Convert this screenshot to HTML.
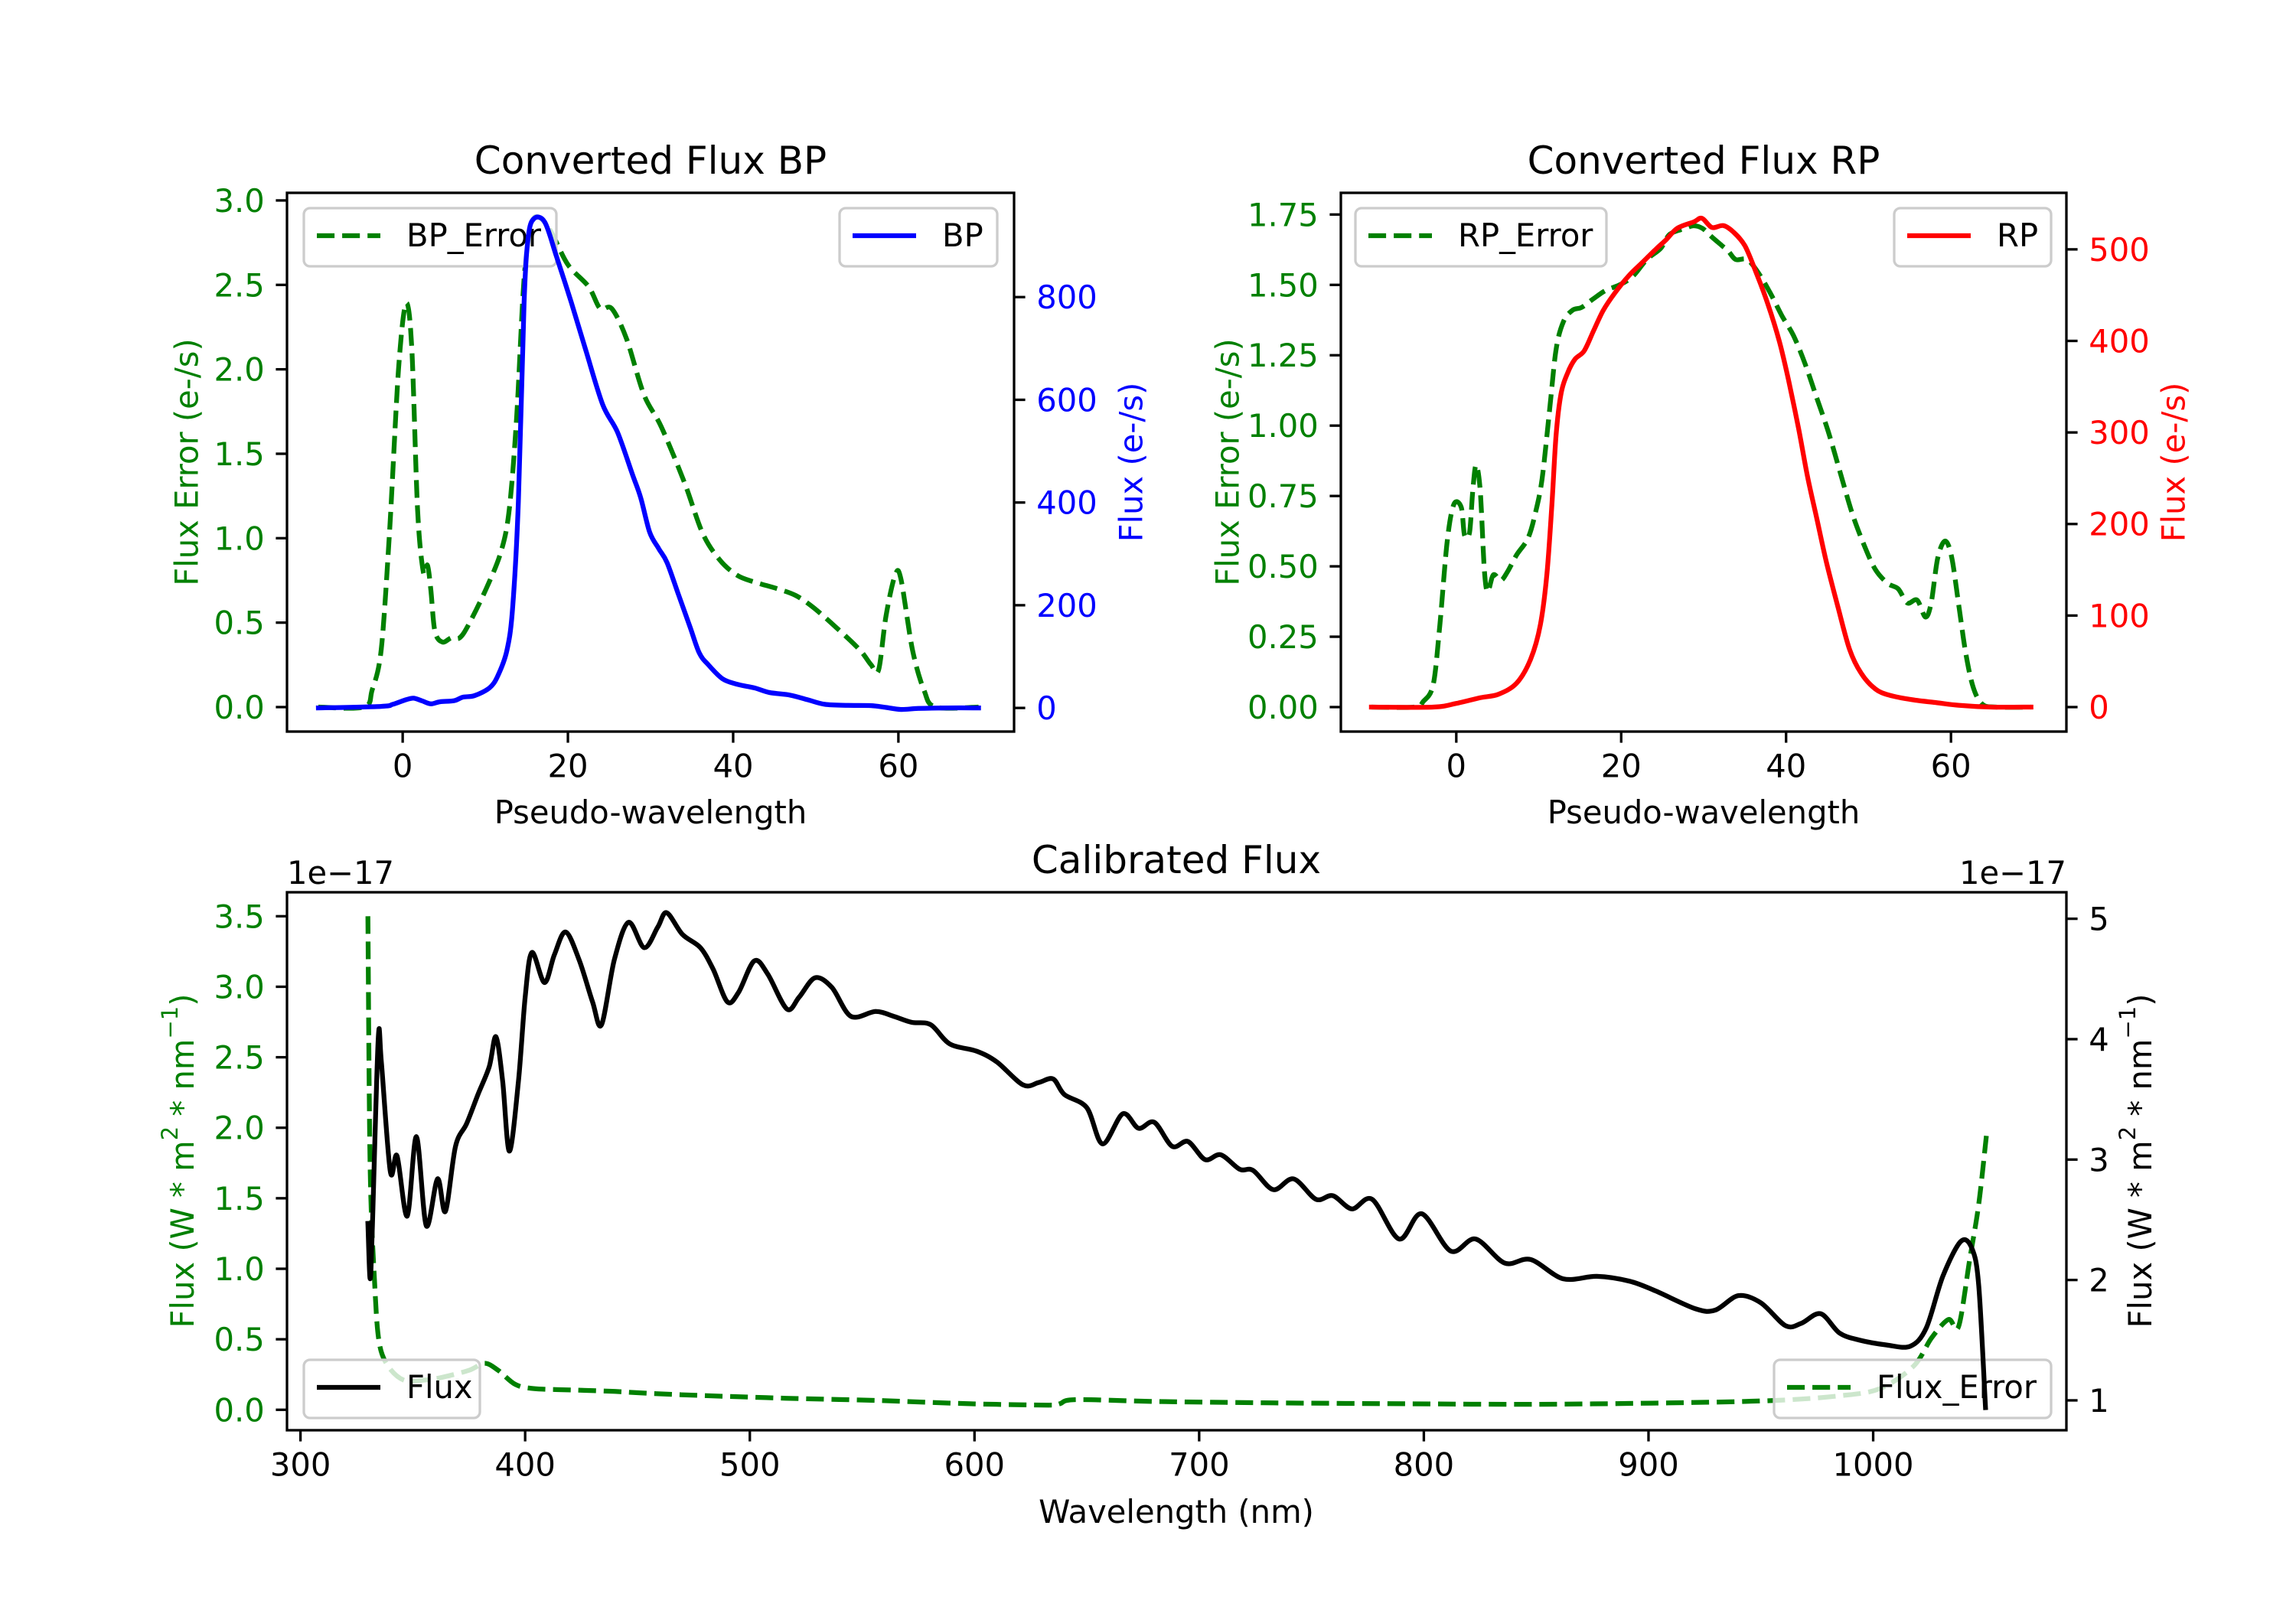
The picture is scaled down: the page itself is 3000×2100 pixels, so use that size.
<!DOCTYPE html>
<html><head><meta charset="utf-8"><style>
html,body{margin:0;padding:0;background:#fff}
svg{display:block;font-family:"DejaVu Sans","Liberation Sans",sans-serif}
</style></head><body>
<svg id="fig" xmlns="http://www.w3.org/2000/svg" width="3000" height="2100" viewBox="0 0 3000 2100">
<rect width="3000" height="2100" fill="#fff"/>
</svg>
<script>
// ---- BP data ----
const bpX = [-10.2,-2.6,-1.2,0.2,1.3,2.3,3.4,4.5,6.2,7.3,8.7,10.5,11.5,12.6,13.3,14,14.7,15.2,15.9,17.2,18.6,20.4,22.1,24.2,26,27.8,28.8,29.9,31,32,33.4,34.8,35.9,37,38.7,40.5,42.6,44.4,46.9,49,51.1,53.9,56.7,58.5,60.3,62.4,65.9,69.7];
const bpFlux = [0,3,7,15,19,14,8,12,14,21,24,39,62,111,193,401,790,917,953,946,880,790,700,591,537,455,410,342,310,283,220,157,107,84,57,46,39,30,25,16,7,5,4.5,1,-3,-1,0,0];
const bpErrX = [-10.2,-4.7,-3.7,-2.6,-1.6,-0.5,0.4,1.1,1.8,2.5,3.0,3.4,3.9,4.8,5.9,6.9,8,10.1,11.9,12.9,13.8,14.7,15.6,16.5,17.9,20,22.5,23.9,25.3,27.1,29.2,31.3,34.1,36.3,38.4,40.5,42.6,45.4,47.6,49.7,52.5,55.3,56.7,57.6,58.5,59.6,60.3,61.7,63.1,64.5,69.7];
const bpErr = [0,0,0.1,0.34,1.03,2.0,2.39,2.13,1.17,0.80,0.84,0.70,0.45,0.385,0.41,0.41,0.49,0.70,0.92,1.17,1.72,2.54,2.86,2.90,2.82,2.62,2.49,2.36,2.36,2.18,1.85,1.66,1.33,1.03,0.87,0.78,0.74,0.70,0.66,0.59,0.47,0.34,0.25,0.22,0.54,0.78,0.76,0.34,0.10,0,0];
// ---- RP data ----
const rpX = [-10.3,-2.8,0,2.8,5.1,7.3,9,10.2,11,11.6,12.1,12.7,13.5,14.4,15.5,16.6,17.8,19.2,20.9,22.6,24.3,25.4,26.8,28.8,29.8,31,32.4,33.6,35,36.4,37.8,39.2,40.3,41.5,42.6,43.7,44.9,46.3,47.7,49.1,50.8,52.5,55.3,58.1,60.9,64.9,69.7];
const rpFlux = [0,0,4,10,14,26,52,90,146,222,297,342,365,380,389,410,433,452,471,486,501,510,523,530,534,524,526,519,504,474,440,399,357,305,252,207,158,109,63,37,20,13,8,5,2,0,0];
const rpErrX = [-10.3,-5.1,-4,-2.8,-2,-1.1,-0.3,0.6,1,1.6,2,2.4,2.9,3.4,3.8,4.5,5.4,6.2,7.3,8.7,9.6,10.4,11.3,12.1,13,14.1,15.2,16.6,18.1,19.8,21.4,23.1,24.8,25.9,27.7,28.8,29.9,31,32.2,33,33.9,35.3,36.7,38.1,39.5,40.9,42.3,43.7,45.1,46.6,48,49.4,50.8,52.3,53.6,54.7,55.9,56.9,57.6,58.4,59.3,60.1,61,61.8,62.7,63.8,65.5,69.7];
const rpErr = [0,0,0.02,0.08,0.29,0.59,0.72,0.71,0.61,0.62,0.77,0.86,0.77,0.49,0.41,0.47,0.45,0.48,0.54,0.60,0.69,0.81,1.05,1.27,1.37,1.41,1.42,1.45,1.48,1.50,1.53,1.59,1.63,1.68,1.70,1.71,1.70,1.67,1.64,1.62,1.59,1.59,1.54,1.47,1.39,1.32,1.22,1.10,0.98,0.83,0.69,0.58,0.49,0.44,0.42,0.37,0.38,0.32,0.37,0.53,0.59,0.53,0.35,0.19,0.07,0.01,0,0];
// ---- Calibrated data ----
const calX = [330,331,332,334.6,336,340,343,347.5,351.6,356,361,364.5,369,374,379,384,387,390,393,397,400,403,408.6,413,418,424,430,434,439.7,446,453,459,463,470,478,483.7,490,495,502,508,516.5,522,529,536.5,545,556,564,572,580.5,589,601,610,621.6,628.6,635,640,650,657,666,673,680,688,695,702.6,709.6,718,724,733,742,752,759.5,768,777,789,799,812,823,836,847.5,862,877,891.5,903,921,929.7,940,950,961,968,976.6,985,994,1006,1016.5,1023.6,1031,1039,1044,1047,1050];
const calFlux = [2.47,2.01,2.45,4.0,3.81,2.90,3.03,2.53,3.19,2.45,2.84,2.57,3.11,3.30,3.54,3.77,4.02,3.65,3.07,3.65,4.35,4.72,4.47,4.70,4.89,4.66,4.31,4.12,4.66,4.97,4.76,4.93,5.05,4.87,4.76,4.58,4.31,4.39,4.65,4.54,4.25,4.35,4.51,4.43,4.19,4.23,4.19,4.14,4.12,3.96,3.90,3.81,3.62,3.64,3.67,3.54,3.43,3.13,3.38,3.26,3.31,3.11,3.15,3.00,3.04,2.92,2.91,2.75,2.84,2.67,2.70,2.59,2.67,2.34,2.55,2.24,2.34,2.14,2.17,2.01,2.03,1.99,1.91,1.76,1.75,1.87,1.81,1.62,1.64,1.72,1.56,1.50,1.46,1.45,1.60,2.03,2.32,2.26,1.95,0.94];
const calErrX = [330,331,333,335,339,346,354.6,363,375,382,388,395.6,404,422,440,457,481,516,557,598,633,638,645,680,733,792,850,909,956,985,1003,1018,1026,1033.5,1038,1043,1047,1050.5];
const calErr = [3.50,1.73,0.90,0.48,0.31,0.21,0.21,0.23,0.28,0.33,0.28,0.18,0.15,0.14,0.13,0.115,0.10,0.082,0.066,0.043,0.033,0.043,0.072,0.059,0.049,0.043,0.039,0.049,0.066,0.099,0.15,0.31,0.51,0.64,0.59,1.07,1.46,1.96];
// ---- ticks ----
const pwTicks = [0,20,40,60];
const bpErrTicks = [0,0.5,1,1.5,2,2.5,3];
const bpErrTickLabels = ["0.0","0.5","1.0","1.5","2.0","2.5","3.0"];
const bpFluxTicks = [0,200,400,600,800];
const rpErrTicks = [0,0.25,0.5,0.75,1,1.25,1.5,1.75];
const rpErrTickLabels = ["0.00","0.25","0.50","0.75","1.00","1.25","1.50","1.75"];
const rpFluxTicks = [0,100,200,300,400,500];
const wlTicks = [300,400,500,600,700,800,900,1000];
const calErrTicks = [0,0.5,1,1.5,2,2.5,3,3.5];
const calErrTickLabels = ["0.0","0.5","1.0","1.5","2.0","2.5","3.0","3.5"];
const calFluxTicks = [1,2,3,4,5];

const NS = "http://www.w3.org/2000/svg";
const svg = document.getElementById('fig');
const FS = 41.67, LW = 6.25, DASH = "23.1 10";
function el(tag, attrs, parent){ const e=document.createElementNS(NS,tag); for(const k in attrs) e.setAttribute(k,attrs[k]); (parent||svg).appendChild(e); return e; }
function txt(s, attrs, parent){ const t=el('text',attrs,parent); t.textContent=s; return t; }
function scale(d0,d1,p0,p1){ return v=>p0+(v-d0)/(d1-d0)*(p1-p0); }
function clipRect(id,box){ const c=el('clipPath',{id:id}); el('rect',{x:box.l,y:box.t,width:box.r-box.l,height:box.b-box.t},c); }
function line(xs,ys,sx,sy,color,dashed,clip,name){
  const P=xs.map((x,i)=>[sx(x),sy(ys[i])]);
  let d='M'+P[0][0].toFixed(1)+','+P[0][1].toFixed(1);
  const t=0.16;
  for(let i=0;i<P.length-1;i++){
    const p0=P[Math.max(0,i-1)],p1=P[i],p2=P[i+1],p3=P[Math.min(P.length-1,i+2)];
    const c1=[p1[0]+(p2[0]-p0[0])*t,p1[1]+(p2[1]-p0[1])*t];
    const c2=[p2[0]-(p3[0]-p1[0])*t,p2[1]-(p3[1]-p1[1])*t];
    d+='C'+c1[0].toFixed(1)+','+c1[1].toFixed(1)+' '+c2[0].toFixed(1)+','+c2[1].toFixed(1)+' '+p2[0].toFixed(1)+','+p2[1].toFixed(1);
  }
  const p=el('path',{d:d,fill:'none',stroke:color,'stroke-width':LW,'stroke-linejoin':'round','stroke-linecap':dashed?'butt':'square','clip-path':'url(#'+clip+')'});
  if(dashed) p.setAttribute('stroke-dasharray',DASH);
  
  
  return p;
}
function xticks(box,sx,ticks,labels,name){
  const g=el('g',{});
  
  
  ticks.forEach((v,i)=>{ const x=sx(v);
    el('line',{x1:x,x2:x,y1:box.b,y2:box.b+14.6,stroke:'#000','stroke-width':3.3},g);
    txt(labels?labels[i]:String(v),{x:x,y:box.b+14.6+14.6+30.5,'font-size':FS,'text-anchor':'middle',fill:'#000'},g); });
}
function yticks(box,sy,ticks,labels,side,color,name){
  const g=el('g',{});
  
  
  ticks.forEach((v,i)=>{ const y=sy(v); const x0= side==='l'?box.l:box.r; const dir= side==='l'?-1:1;
    el('line',{x1:x0,x2:x0+dir*14.6,y1:y,y2:y,stroke:'#000','stroke-width':3.3},g);
    txt(labels?labels[i]:String(v),{x:x0+dir*29.2,y:y+15,'font-size':FS,'text-anchor':side==='l'?'end':'start',fill:color},g); });
}
function frame(box,name){ const r=el('rect',{x:box.l,y:box.t,width:box.r-box.l,height:box.b-box.t,fill:'none',stroke:'#000','stroke-width':3.3});
  
   }
function legend(x,y,w,color,dashed,label,name){
  const g=el('g',{});
  
  
  el('rect',{x:x,y:y,width:w,height:76,rx:8,fill:'#fff','fill-opacity':0.8,stroke:'#cccccc','stroke-width':3.3},g);
  const l=el('line',{x1:x+17,x2:x+100,y1:y+36,y2:y+36,stroke:color,'stroke-width':LW},g);
  if(dashed) l.setAttribute('stroke-dasharray',DASH);
  txt(label,{x:x+134,y:y+50,'font-size':FS,fill:'#000'},g);
}
function ylabel(s,x,cy,color,name){ const t=txt(s,{x:x,y:cy,'font-size':FS,'text-anchor':'middle',fill:color,transform:'rotate(-90 '+x+' '+cy+')','dominant-baseline':'central'});
  
   return t; }
function title(s,x,y,name){ const t=txt(s,{x:x,y:y,'font-size':50,'text-anchor':'middle',fill:'#000'});
  
   }

// ===== BP panel =====
const bpBox={l:375,r:1325,t:252,b:956};
clipRect('cbp',bpBox);
const bx=scale(-14,74,bpBox.l,bpBox.r), byL=scale(-0.145,3.045,bpBox.b,bpBox.t), byR=scale(-46,1003,bpBox.b,bpBox.t);
line(bpErrX,bpErr,bx,byL,'#008000',true,'cbp','bp-error-line');
legend(397,272,330,'#008000',true,'BP_Error','bp-error-legend');
line(bpX,bpFlux,bx,byR,'#0000ff',false,'cbp','bp-flux-line');
legend(1097,272,206,'#0000ff',false,'BP','bp-legend');
frame(bpBox,'bp-axes-frame');
xticks(bpBox,bx,pwTicks,null,'bp-x-ticks');
yticks(bpBox,byL,bpErrTicks,bpErrTickLabels,'l','#008000','bp-left-y-ticks');
yticks(bpBox,byR,bpFluxTicks,null,'r','#0000ff','bp-right-y-ticks');
title('Converted Flux BP',850,227,'bp-title');
txt('Pseudo-wavelength',{x:850,y:1076,'font-size':FS,'text-anchor':'middle',fill:'#000',});
ylabel('Flux Error (e-/s)',244,604,'#008000','bp-left-y-axis-title');
ylabel('Flux (e-/s)',1478,604,'#0000ff','bp-right-y-axis-title');

// ===== RP panel =====
const rpBox={l:1752,r:2700,t:252,b:956};
clipRect('crp',rpBox);
const rx=scale(-14,74,rpBox.l,rpBox.r), ryL=scale(-0.087,1.827,rpBox.b,rpBox.t), ryR=scale(-26.75,561.75,rpBox.b,rpBox.t);
line(rpErrX,rpErr,rx,ryL,'#008000',true,'crp','rp-error-line');
legend(1771,272,328,'#008000',true,'RP_Error','rp-error-legend');
line(rpX,rpFlux,rx,ryR,'#ff0000',false,'crp','rp-flux-line');
legend(2475,272,205,'#ff0000',false,'RP','rp-legend');
frame(rpBox,'rp-axes-frame');
xticks(rpBox,rx,pwTicks,null,'rp-x-ticks');
yticks(rpBox,ryL,rpErrTicks,rpErrTickLabels,'l','#008000','rp-left-y-ticks');
yticks(rpBox,ryR,rpFluxTicks,null,'r','#ff0000','rp-right-y-ticks');
title('Converted Flux RP',2226,227,'rp-title');
txt('Pseudo-wavelength',{x:2226,y:1076,'font-size':FS,'text-anchor':'middle',fill:'#000',});
ylabel('Flux Error (e-/s)',1604,604,'#008000','rp-left-y-axis-title');
ylabel('Flux (e-/s)',2840,604,'#ff0000','rp-right-y-axis-title');

// ===== Calibrated panel =====
const cBox={l:375,r:2700,t:1166,b:1869};
clipRect('ccal',cBox);
const cx=scale(294,1086,cBox.l,cBox.r), cyL=scale(-0.145,3.67,cBox.b,cBox.t), cyR=scale(0.752,5.22,cBox.b,cBox.t);
line(calErrX,calErr,cx,cyL,'#008000',true,'ccal','calibrated-error-line');
legend(2318,1777,362,'#008000',true,'Flux_Error','flux-error-legend');
line(calX,calFlux,cx,cyR,'#000000',false,'ccal','calibrated-flux-line');
legend(397,1777,230,'#000000',false,'Flux','flux-legend');
frame(cBox,'calibrated-axes-frame');
xticks(cBox,cx,wlTicks,null,'calibrated-x-ticks');
yticks(cBox,cyL,calErrTicks,calErrTickLabels,'l','#008000','calibrated-left-y-ticks');
yticks(cBox,cyR,calFluxTicks,null,'r','#000000','calibrated-right-y-ticks');
title('Calibrated Flux',1537,1141,'calibrated-title');
txt('1e\u221217',{x:375,y:1155,'font-size':FS,fill:'#000',});
txt('1e\u221217',{x:2700,y:1155,'font-size':FS,'text-anchor':'end',fill:'#000',});
txt('Wavelength (nm)',{x:1537,y:1990,'font-size':FS,'text-anchor':'middle',fill:'#000',});
function mathLabel(x,cy,color,name){
  const t=el('text',{x:x,y:cy,'font-size':FS,'text-anchor':'middle',fill:color,transform:'rotate(-90 '+x+' '+cy+')','dominant-baseline':'central'});
  
  
  const parts=[['Flux (W * m',0],['2',1],[' * nm',0],['\u22121',1],[')',0]];
  parts.forEach(p=>{ const s=el('tspan',{},t); s.textContent=p[0];
    if(p[1]){ s.setAttribute('font-size',29); s.setAttribute('dy',-16); } else if(s!==t.firstChild){ s.setAttribute('dy',16); } });
  t.firstChild.removeAttribute('dy');
}
mathLabel(238,1517,'#008000','calibrated-left-y-axis-title');
mathLabel(2796,1517,'#000000','calibrated-right-y-axis-title');
</script>
</body></html>
